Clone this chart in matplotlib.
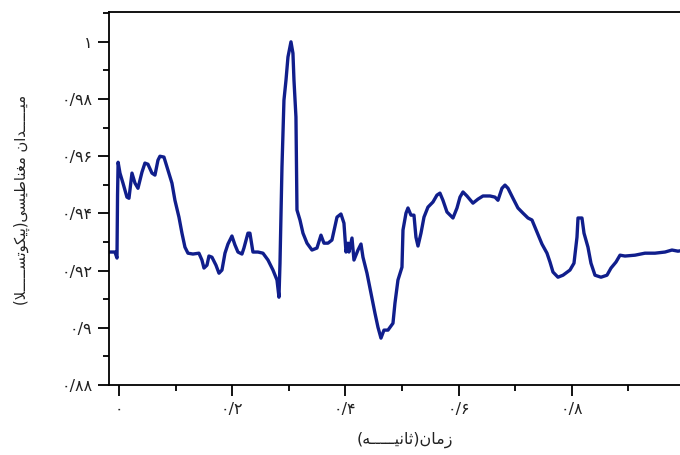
import matplotlib
matplotlib.use("Agg")
import matplotlib.pyplot as plt
from matplotlib.ticker import FixedLocator, MultipleLocator

# time (s) and field (pT)
time_s = [
    -0.0159, -0.0071, -0.0035, -0.0025, -0.0015,
    0.0018, 0.0071, 0.0141, 0.0177, 0.0230, 0.0283, 0.0336, 0.0406, 0.0459,
    0.0512, 0.0583, 0.0636, 0.0689, 0.0724, 0.0795, 0.0866, 0.0936, 0.0989,
    0.1060, 0.1113, 0.1166, 0.1219, 0.1307, 0.1413, 0.1466, 0.1502, 0.1555,
    0.1590, 0.1643, 0.1714, 0.1767, 0.1820, 0.1873, 0.1926, 0.1996, 0.2049,
    0.2102, 0.2173, 0.2208, 0.2279, 0.2314, 0.2367,
    0.2456, 0.2544, 0.2633, 0.2721, 0.2792, 0.2827, 0.2845, 0.2880, 0.2915,
    0.2951, 0.2986, 0.3039, 0.3074, 0.3092, 0.3127, 0.3145, 0.3198, 0.3251,
    0.3322, 0.3410, 0.3498, 0.3569, 0.3622, 0.3693, 0.3763, 0.3852, 0.3922,
    0.3975, 0.4011, 0.4046, 0.4064, 0.4117, 0.4152, 0.4223, 0.4276, 0.4311,
    0.4382, 0.4452, 0.4523, 0.4576, 0.4629, 0.4682,
    0.4753, 0.4841, 0.4876, 0.4929, 0.5000, 0.5018, 0.5071, 0.5106, 0.5159,
    0.5212, 0.5247, 0.5283, 0.5336, 0.5389, 0.5459, 0.5548, 0.5618, 0.5671,
    0.5724, 0.5795, 0.5901, 0.5972, 0.6025, 0.6078, 0.6148, 0.6254, 0.6343,
    0.6431, 0.6555, 0.6643, 0.6696, 0.6767, 0.6820, 0.6873, 0.6961, 0.7049,
    0.7138,
    0.7226, 0.7297, 0.7385, 0.7473, 0.7562, 0.7615, 0.7668, 0.7756, 0.7845,
    0.7968, 0.8039, 0.8092, 0.8110, 0.8180, 0.8216, 0.8286, 0.8339, 0.8410,
    0.8516, 0.8622, 0.8693, 0.8781, 0.8852, 0.8940, 0.9117, 0.9293, 0.9470,
    0.9647, 0.9770, 0.9876, 1.0000,
]
field_pt = [
    0.9265, 0.9265, 0.9244, 0.9464, 0.9579,
    0.9541, 0.9506, 0.9457, 0.9453, 0.9541, 0.9506, 0.9488, 0.9544, 0.9576,
    0.9572, 0.9541, 0.9534, 0.9586, 0.9600, 0.9597, 0.9551, 0.9506, 0.9446,
    0.9387, 0.9331, 0.9282, 0.9261, 0.9258, 0.9261, 0.9237, 0.9209, 0.9219,
    0.9251, 0.9247, 0.9219, 0.9191, 0.9202, 0.9261, 0.9293, 0.9321, 0.9290,
    0.9265, 0.9258, 0.9279, 0.9331, 0.9331, 0.9265,
    0.9265, 0.9261, 0.9237, 0.9202, 0.9167, 0.9107, 0.9226, 0.9562, 0.9796,
    0.9866, 0.9947, 1.0000, 0.9960, 0.9866, 0.9737, 0.9412, 0.9377, 0.9331,
    0.9296, 0.9272, 0.9279, 0.9324, 0.9296, 0.9296, 0.9307, 0.9387, 0.9398,
    0.9366, 0.9265, 0.9296, 0.9265, 0.9314, 0.9237, 0.9272, 0.9293, 0.9247,
    0.9191, 0.9121, 0.9051, 0.9002, 0.8964, 0.8992,
    0.8992, 0.9016, 0.9086, 0.9167, 0.9212, 0.9342, 0.9401, 0.9419, 0.9394,
    0.9394, 0.9317, 0.9286, 0.9331, 0.9387, 0.9422, 0.9440, 0.9464, 0.9471,
    0.9446, 0.9405, 0.9384, 0.9419, 0.9457, 0.9475, 0.9461, 0.9436, 0.9450,
    0.9461, 0.9461, 0.9457, 0.9446, 0.9488, 0.9499, 0.9488, 0.9453, 0.9419,
    0.9401,
    0.9384, 0.9377, 0.9335, 0.9293, 0.9261, 0.9230, 0.9195, 0.9177, 0.9184,
    0.9202, 0.9226, 0.9317, 0.9384, 0.9384, 0.9331, 0.9282, 0.9226, 0.9184,
    0.9177, 0.9184, 0.9209, 0.9230, 0.9254, 0.9251, 0.9254, 0.9261, 0.9261,
    0.9265, 0.9272, 0.9268, 0.9272,
]

x_ticks = [0.0, 0.2, 0.4, 0.6, 0.8, 1.0]
x_labels = ["۰", "۰/۲", "۰/۴", "۰/۶", "۰/۸", "۱"]
y_ticks = [0.88, 0.90, 0.92, 0.94, 0.96, 0.98, 1.00]
y_labels = ["۰/۸۸", "۰/۹", "۰/۹۲", "۰/۹۴", "۰/۹۶", "۰/۹۸", "۱"]

# Persian labels written in shaped (presentation) forms, left-to-right glyph order
x_title = ("(\ufeea" + "\u0640" * 5 + "\ufef4\ufee7\ufe8e\ufe9b)"
           "\ufee5\ufe8e\ufee3\ufeaf")
y_title = ("(\ufefc" + "\u0640" * 5 + "\ufeb4\ufe97\ufeee\ufb91\ufef4\ufb58)"
           "\ufef0\ufeb4\ufef4\ufec3\ufe8e\ufee8\ufed0\ufee3 "
           "\ufee5\ufe8d\ufeaa" + "\u0640" * 5 + "\ufef4\ufee3")

plt.rcParams['font.family'] = ['DejaVu Sans']

fig = plt.figure(figsize=(6.8, 4.55), dpi=100)
ax = fig.add_axes([0.1607, 0.1538, 0.8716, 0.819])

ax.plot(time_s, field_pt, color='#101e8c', lw=2.4, solid_joinstyle='round')

ax.set_xlim(-0.0171, 1.03)
ax.set_ylim(0.88, 1.0103)

ax.xaxis.set_major_locator(FixedLocator(x_ticks))
ax.set_xticklabels(x_labels)
ax.xaxis.set_minor_locator(MultipleLocator(0.1))
ax.yaxis.set_major_locator(FixedLocator(y_ticks))
ax.set_yticklabels(y_labels)
ax.yaxis.set_minor_locator(MultipleLocator(0.01))

ax.tick_params(which='major', direction='out', length=8, width=1.3,
               labelsize=11.5, labelcolor='#222222', pad=4)
ax.tick_params(which='minor', direction='out', length=4.5, width=1.3)
for side in ['left', 'bottom', 'top', 'right']:
    ax.spines[side].set_linewidth(1.3)

fig.text(405 / 680, 1 - 440 / 455, x_title, ha='center', va='center',
         fontsize=11.5, color='#222222')
fig.text(22 / 680, 1 - 200 / 455, y_title, ha='center', va='center',
         rotation=90, fontsize=10.5, color='#222222')

fig.savefig('out.png', dpi=100)
